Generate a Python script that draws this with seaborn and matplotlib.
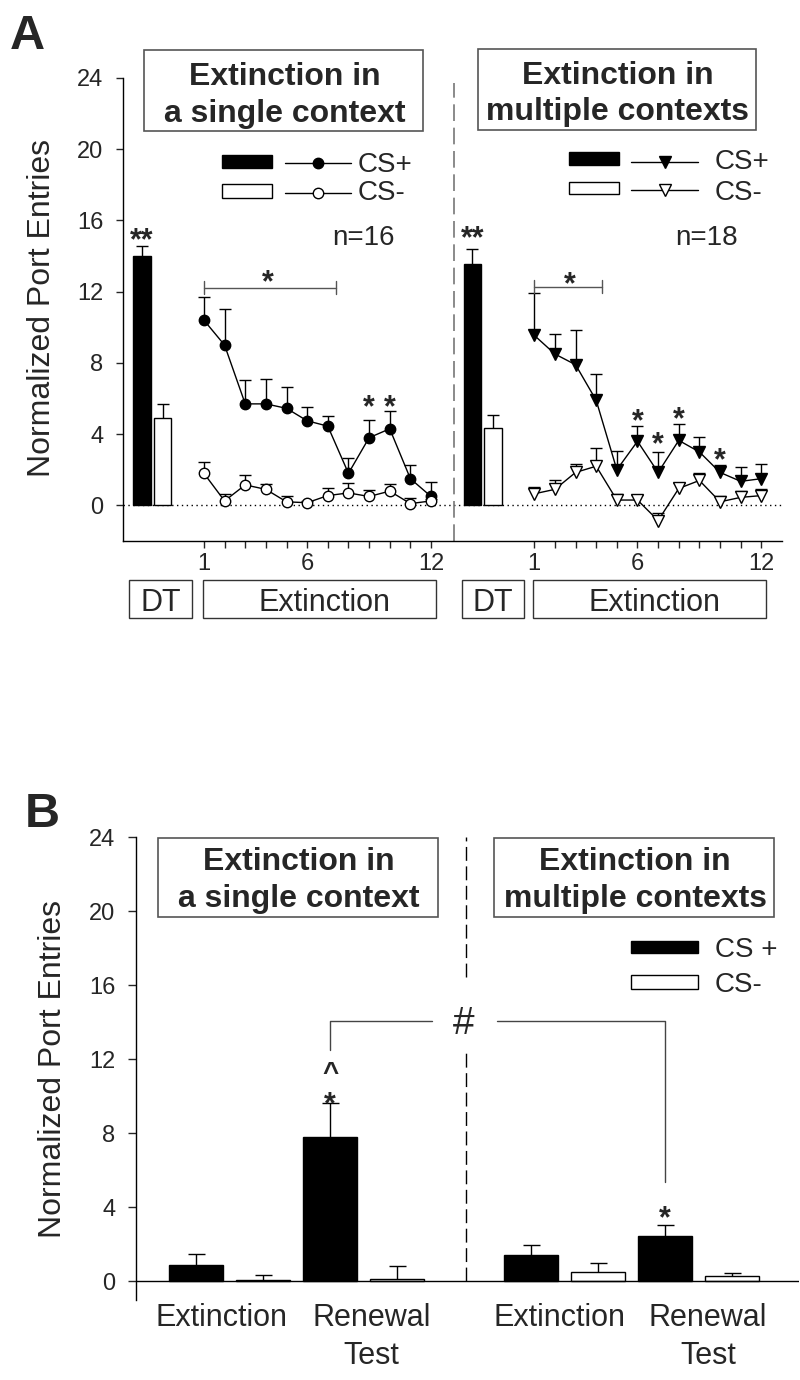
import numpy as np
import matplotlib
matplotlib.use("Agg")
import matplotlib.pyplot as plt
import seaborn as sns
from matplotlib.patches import Rectangle
from matplotlib.lines import Line2D

# ---------------- data ----------------
sessions = list(range(1, 13))

# Panel A - extinction in a single context
single_dt_labels = ["CS+", "CS-"]
single_dt_mean = [14.0, 4.9]
single_dt_sem = [0.57, 0.78]
single_csp = [10.4, 9.0, 5.7, 5.7, 5.45, 4.75, 4.45, 1.8, 3.8, 4.3, 1.5, 0.5]
single_csp_sem = [1.3, 2.0, 1.35, 1.4, 1.2, 0.8, 0.55, 0.85, 1.0, 1.0, 0.75, 0.8]
single_csm = [1.8, 0.25, 1.15, 0.9, 0.2, 0.15, 0.55, 0.7, 0.5, 0.8, 0.1, 0.25]
single_csm_sem = [0.65, 0.4, 0.55, 0.3, 0.35, 0.1, 0.4, 0.55, 0.35, 0.4, 0.3, 0.1]

# Panel A - extinction in multiple contexts
multi_dt_mean = [13.55, 4.35]
multi_dt_sem = [0.85, 0.75]
multi_csp = [9.55, 8.5, 7.9, 5.9, 2.0, 3.6, 1.85, 3.65, 3.0, 1.85, 1.35, 1.5]
multi_csp_sem = [2.35, 1.1, 1.95, 1.5, 1.05, 0.85, 1.15, 0.9, 0.85, 0.4, 0.8, 0.8]
multi_csm = [0.65, 0.9, 1.85, 2.2, 0.3, 0.3, -0.85, 0.95, 1.4, 0.2, 0.45, 0.55]
multi_csm_sem = [0.4, 0.55, 0.5, 1.0, 0.35, 0.3, 0.4, 0.3, 0.4, 0.3, 0.35, 0.35]

# Panel B
test_phases = ["Extinction", "Renewal\nTest"]
single_b_csp = [0.9, 7.8]
single_b_csp_sem = [0.58, 1.83]
single_b_csm = [0.1, 0.15]
single_b_csm_sem = [0.23, 0.66]
multi_b_csp = [1.45, 2.45]
multi_b_csp_sem = [0.52, 0.58]
multi_b_csm = [0.52, 0.27]
multi_b_csm_sem = [0.48, 0.19]

y_ticks = [0, 4, 8, 12, 16, 20, 24]

# ---------------- style ----------------
sns.set_style("ticks")
plt.rcParams["font.family"] = ["Liberation Sans", "DejaVu Sans"]
plt.rcParams["axes.linewidth"] = 1.0
plt.rcParams["axes.edgecolor"] = "black"

W, H = 800, 1380
fig = plt.figure(figsize=(8, 13.8), dpi=100)
fig.patch.set_facecolor("white")


def fx(x):
    return x / W


def fy(y):
    return 1 - y / H


def fig_rect(x0, y0, x1, y1, fc="none", ec="#444444", lw=1.0):
    fig.add_artist(Rectangle((fx(x0), fy(y1)), fx(x1) - fx(x0), fy(y0) - fy(y1),
                             transform=fig.transFigure, facecolor=fc, edgecolor=ec, lw=lw))


def fig_text(x, y, s, **kw):
    fig.text(fx(x), fy(y), s, **kw)


def bars(ax, pos, vals, color, width_units=0.85):
    pos = np.asarray(pos, float)
    uniq = np.unique(pos)
    nw = np.min(np.diff(uniq)) if len(uniq) > 1 else 1.0
    sns.barplot(x=pos, y=list(vals), native_scale=True, orient="x",
                width=width_units / nw, color=color, edgecolor="black",
                linewidth=1.0, saturation=1, errorbar=None, ax=ax, zorder=2)


def upper_err(ax, pos, vals, errs, cap_px=12, lw=1.0, z=3):
    pos = np.asarray(pos, float)
    v = np.asarray(vals, float)
    e = np.asarray(errs, float)
    ax.vlines(pos, v, v + e, colors="black", lw=lw, zorder=z)
    ax.plot(pos, v + e, ls="none", marker="_", ms=cap_px * 0.72, mew=lw,
            color="black", zorder=z)


def line(ax, pos, vals, marker, mfc, ms):
    sns.lineplot(x=list(pos), y=list(vals), color="black", linewidth=1.0,
                 marker=marker, markersize=ms, markerfacecolor=mfc,
                 markeredgecolor="black", markeredgewidth=1.0,
                 errorbar=None, legend=False, ax=ax, zorder=4)


def glyph(ax, x, y, s, fs=22, center_em=0.58, weight="bold"):
    ax.annotate(s, xy=(x, y), xytext=(0, -center_em * fs), textcoords="offset points",
                ha="center", va="baseline", fontsize=fs, fontweight=weight, zorder=6)


# ================= Panel A =================
axA = fig.add_axes([fx(123), fy(541), fx(782) - fx(123), fy(78) - fy(541)])
left_x = np.array(sessions, float)
right_x = left_x + 16
dtL = [-2.0, -1.0]
dtR = [14.0, 15.0]

axA.plot([-2.92, 29], [0, 0], color="black", lw=1.0, ls=(0, (1, 2.5)), zorder=1)

bars(axA, [dtL[0]], [single_dt_mean[0]], "black")
bars(axA, [dtL[1]], [single_dt_mean[1]], "white")
bars(axA, [dtR[0]], [multi_dt_mean[0]], "black")
bars(axA, [dtR[1]], [multi_dt_mean[1]], "white")
upper_err(axA, dtL, single_dt_mean, single_dt_sem)
upper_err(axA, dtR, multi_dt_mean, multi_dt_sem)

upper_err(axA, left_x, single_csp, single_csp_sem)
upper_err(axA, left_x, single_csm, single_csm_sem)
upper_err(axA, right_x, multi_csp, multi_csp_sem)
upper_err(axA, right_x, multi_csm, multi_csm_sem)
line(axA, left_x, single_csp, "o", "black", 7.5)
line(axA, left_x, single_csm, "o", "white", 7.5)
line(axA, right_x, multi_csp, "v", "black", 9)
line(axA, right_x, multi_csm, "v", "white", 9)

# separator
axA.plot([13.1, 13.1], [-2, 23.7], color="#777777", lw=1.2, ls=(0, (10, 4)), zorder=1)

# significance marks
glyph(axA, dtL[0], 15.4, "**")
glyph(axA, dtR[0], 15.5, "**")
for xs, ys in [(9, 6.0), (10, 6.0)]:
    glyph(axA, xs, ys, "*")
for xs, ys in [(22, 5.2), (23, 3.95), (24, 5.35), (26, 3.05)]:
    glyph(axA, xs, ys, "*")
for (x0, x1, yb, xs, ys) in [(1, 7.4, 12.23, 4.1, 13.0), (17, 20.3, 12.28, 18.7, 12.9)]:
    axA.plot([x0, x1], [yb, yb], color="#555555", lw=1.0, zorder=5)
    for xe in (x0, x1):
        axA.plot([xe, xe], [yb - 0.35, yb + 0.35], color="#555555", lw=1.0, zorder=5)
    glyph(axA, xs, ys, "*")

axA.set_xlim(-2.92, 29)
axA.set_ylim(-2, 24)
axA.set_yticks(y_ticks)
axA.set_yticklabels([str(t) for t in y_ticks])
xt = list(left_x) + list(right_x)
xtl = [str(s) if s in (1, 6, 12) else "" for s in sessions] * 2
axA.set_xticks(xt)
axA.set_xticklabels(xtl)
axA.tick_params(axis="y", direction="out", length=5, width=1, pad=9, labelsize=17)
axA.tick_params(axis="x", direction="out", length=5, width=1, pad=4, labelsize=17)
axA.set_xlabel("")
axA.set_ylabel("")
sns.despine(ax=axA)
axA.grid(False)

# ================= Panel B =================
axB = fig.add_axes([fx(136), fy(1300), fx(799) - fx(136), fy(837) - fy(1300)])
b_csp_pos = [0.0, 2.0, 5.0, 7.0]
b_csm_pos = [1.0, 3.0, 6.0, 8.0]
b_csp = single_b_csp + multi_b_csp
b_csp_sem = single_b_csp_sem + multi_b_csp_sem
b_csm = single_b_csm + multi_b_csm
b_csm_sem = single_b_csm_sem + multi_b_csm_sem

bars(axB, b_csp_pos, b_csp, "black", 0.8)
bars(axB, b_csm_pos, b_csm, "white", 0.8)
upper_err(axB, b_csp_pos, b_csp, b_csp_sem, cap_px=17)
upper_err(axB, b_csm_pos, b_csm, b_csm_sem, cap_px=17)
axB.plot([-0.9, 9.0], [0, 0], color="black", lw=1.0, zorder=5)

# separator with gap for '#'
axB.plot([4.03, 4.03], [0, 12.45], color="black", lw=1.0, ls=(0, (10, 4)), zorder=1)
axB.plot([4.03, 4.03], [16.45, 24], color="black", lw=1.0, ls=(0, (10, 4)), zorder=1)

# comparison bracket
axB.plot([2.0, 2.0, 3.52], [12.5, 14.07, 14.07], color="#444444", lw=1.0)
axB.plot([4.49, 7.0, 7.0], [14.07, 14.07, 5.36], color="#444444", lw=1.0)
glyph(axB, 4.0, 14.1, "#", fs=28, center_em=0.35, weight="normal")
glyph(axB, 2.0, 10.05, "*")
glyph(axB, 2.0, 11.6, "^", fs=20, center_em=0.52)
glyph(axB, 7.0, 3.9, "*")

axB.set_xlim(-0.9, 9.0)
axB.set_ylim(-1, 24)
axB.set_yticks(y_ticks)
axB.set_yticklabels([str(t) for t in y_ticks])
axB.set_xticks([])
axB.tick_params(axis="y", direction="out", length=6, width=1, pad=9, labelsize=17)
axB.set_xlabel("")
axB.set_ylabel("")
sns.despine(ax=axB, bottom=True)
axB.grid(False)

# phase labels under panel B (each line placed on its own baseline)
btrans = matplotlib.transforms.blended_transform_factory(axB.transData, fig.transFigure)
for xc, lab in [(0.37, test_phases[0]), (2.62, test_phases[1]),
                (5.42, test_phases[0]), (7.64, test_phases[1])]:
    for k, part in enumerate(lab.split("\n")):
        axB.text(xc, fy(1326 + 38 * k), part, transform=btrans, ha="center",
                 va="baseline", fontsize=22)

# ================= annotations (figure level) =================
fig_text(10, 49, "A", fontsize=35, fontweight="bold", ha="left", va="baseline")
fig_text(25, 827, "B", fontsize=35, fontweight="bold", ha="left", va="baseline")
fig_text(42, 308, "Normalized Port Entries", fontsize=23, rotation=90, ha="center", va="center")
fig_text(53, 1069, "Normalized Port Entries", fontsize=23, rotation=90, ha="center", va="center")

# title boxes
for (x0, y0, x1, y1, l1, l2, b1, b2) in [
        (144, 50, 423, 131, "Extinction in", "a single context", 85, 122),
        (478, 49, 756, 130, "Extinction in", "multiple contexts", 84, 120),
        (158, 838, 438, 917, "Extinction in", "a single context", 870, 907),
        (494, 838, 774, 917, "Extinction in", "multiple contexts", 870, 907)]:
    fig_rect(x0, y0, x1, y1, ec="#555555", lw=1.2)
    xc = (x0 + x1) / 2 + 1
    fig_text(xc, b1, l1, fontsize=23, fontweight="bold", ha="center", va="baseline")
    fig_text(xc, b2, l2, fontsize=23, fontweight="bold", ha="center", va="baseline")

# panel A legends
for (bx0, bx1, rows, lx0, lx1, mx, tx, marker, mss) in [
        (222, 272, [(155, 168, 163, 172), (184, 198, 193, 200)], 285, 351, 318, 358, "o", 7.5),
        (569, 619, [(152, 164.5, 162, 169), (182, 194, 190, 200)], 631, 698, 665, 715, "v", 9)]:
    for i, (ry0, ry1, ly, tb) in enumerate(rows):
        fc = "black" if i == 0 else "white"
        fig_rect(bx0, ry0, bx1, ry1, fc=fc, ec="black", lw=1.0)
        fig.add_artist(Line2D([fx(lx0), fx(lx1)], [fy(ly), fy(ly)], transform=fig.transFigure,
                              color="black", lw=1.0))
        fig.add_artist(Line2D([fx(mx)], [fy(ly)], transform=fig.transFigure, marker=marker,
                              ms=mss, mfc=fc, mec="black", mew=1.0, ls="none"))
        fig_text(tx, tb, single_dt_labels[i], fontsize=20, ha="left", va="baseline")
fig_text(332, 245, "n=16", fontsize=20, ha="left", va="baseline")
fig_text(675, 245, "n=18", fontsize=20, ha="left", va="baseline")

# x-axis phase boxes under panel A
for (x0, x1, lab) in [(129, 192, "DT"), (203, 436, "Extinction"),
                      (462, 524, "DT"), (533, 766, "Extinction")]:
    fig_rect(x0, 580, x1, 618, ec="#333333", lw=1.0)
    fig_text((x0 + x1) / 2 + (0 if lab == "DT" else 5), 611, lab, fontsize=22,
             ha="center", va="baseline")

# panel B legend
fig_rect(631, 941, 698, 953, fc="black", ec="black")
fig_rect(631, 975, 698, 989, fc="white", ec="black")
fig_text(715, 957, "CS +", fontsize=20, ha="left", va="baseline")
fig_text(715, 992, "CS-", fontsize=20, ha="left", va="baseline")

fig.savefig("out.png", dpi=100, facecolor="white")
